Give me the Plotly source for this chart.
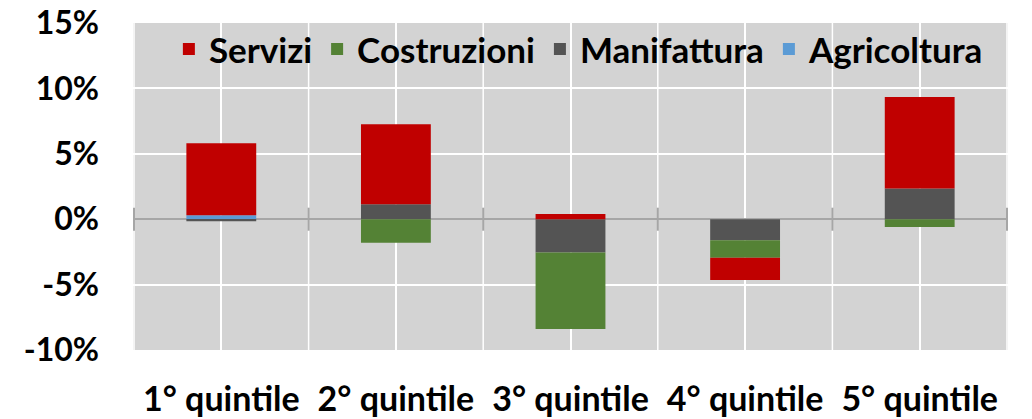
import plotly.graph_objects as go

categories = ["1° quintile", "2° quintile", "3° quintile", "4° quintile", "5° quintile"]
agricoltura = [0.3, 0.0, 0.0, 0.0, 0.0]
manifattura = [-0.15, 1.15, -2.55, -1.6, 2.35]
costruzioni = [0.0, -1.8, -5.85, -1.35, -0.6]
servizi = [5.5, 6.1, 0.4, -1.7, 7.0]
y_ticks = [-10, -5, 0, 5, 10, 15]
y_tick_labels = ["-10%", "-5%", "0%", "5%", "10%", "15%"]

series = [
    ("Agricoltura", agricoltura, "#5B9BD5"),
    ("Manifattura", manifattura, "#545454"),
    ("Costruzioni", costruzioni, "#548235"),
    ("Servizi", servizi, "#C00000"),
]

FONT = "Lato"

fig = go.Figure()
for name, vals, col in series:
    fig.add_trace(go.Bar(x=categories, y=vals, name=name, marker_color=col,
                         marker_line_width=0, width=0.4))

shapes = []
# category boundary gridlines + cross ticks on zero line
for i in range(len(categories) + 1):
    b = i - 0.5
    shapes.append(dict(type="line", xref="x", yref="paper", x0=b, x1=b, y0=0, y1=1,
                       line=dict(color="white", width=1.5), layer="below"))
    shapes.append(dict(type="line", xref="x", yref="y", x0=b, x1=b, y0=-0.88, y1=0.88,
                       line=dict(color="#A6A6A6", width=2), layer="above"))

fig.update_layout(
    width=1032, height=419,
    margin=dict(l=133, r=24, t=23, b=69, autoexpand=False),
    paper_bgcolor="white", plot_bgcolor="#D3D3D3",
    barmode="relative", bargap=0.6,
    font=dict(family=FONT, size=34, color="black", weight="bold"),
    legend=dict(orientation="h", traceorder="reversed", x=0.041, y=0.92,
                xanchor="left", yanchor="middle", bgcolor="rgba(0,0,0,0)",
                font=dict(family=FONT, size=35, weight="bold"),
                itemwidth=30, tracegroupgap=0),
    shapes=shapes,
)
fig.update_yaxes(range=[-10, 15], tickvals=y_ticks, ticktext=y_tick_labels,
                 showgrid=True, automargin=False,
                 gridcolor="white", gridwidth=1.5, zeroline=True,
                 zerolinecolor="#A6A6A6", zerolinewidth=2, showline=False,
                 ticks="", ticklabelstandoff=33,
                 tickfont=dict(family=FONT, size=32, weight="bold"))
fig.update_xaxes(showgrid=True, gridcolor="white", gridwidth=1.5, showline=False,
                 ticks="", ticklabelstandoff=26, automargin=False,
                 tickfont=dict(family=FONT, size=34, weight="bold"))

fig.write_html("out.html", config={"displayModeBar": False},
               post_script="document.body.style.margin='0';document.body.style.overflow='hidden';")
